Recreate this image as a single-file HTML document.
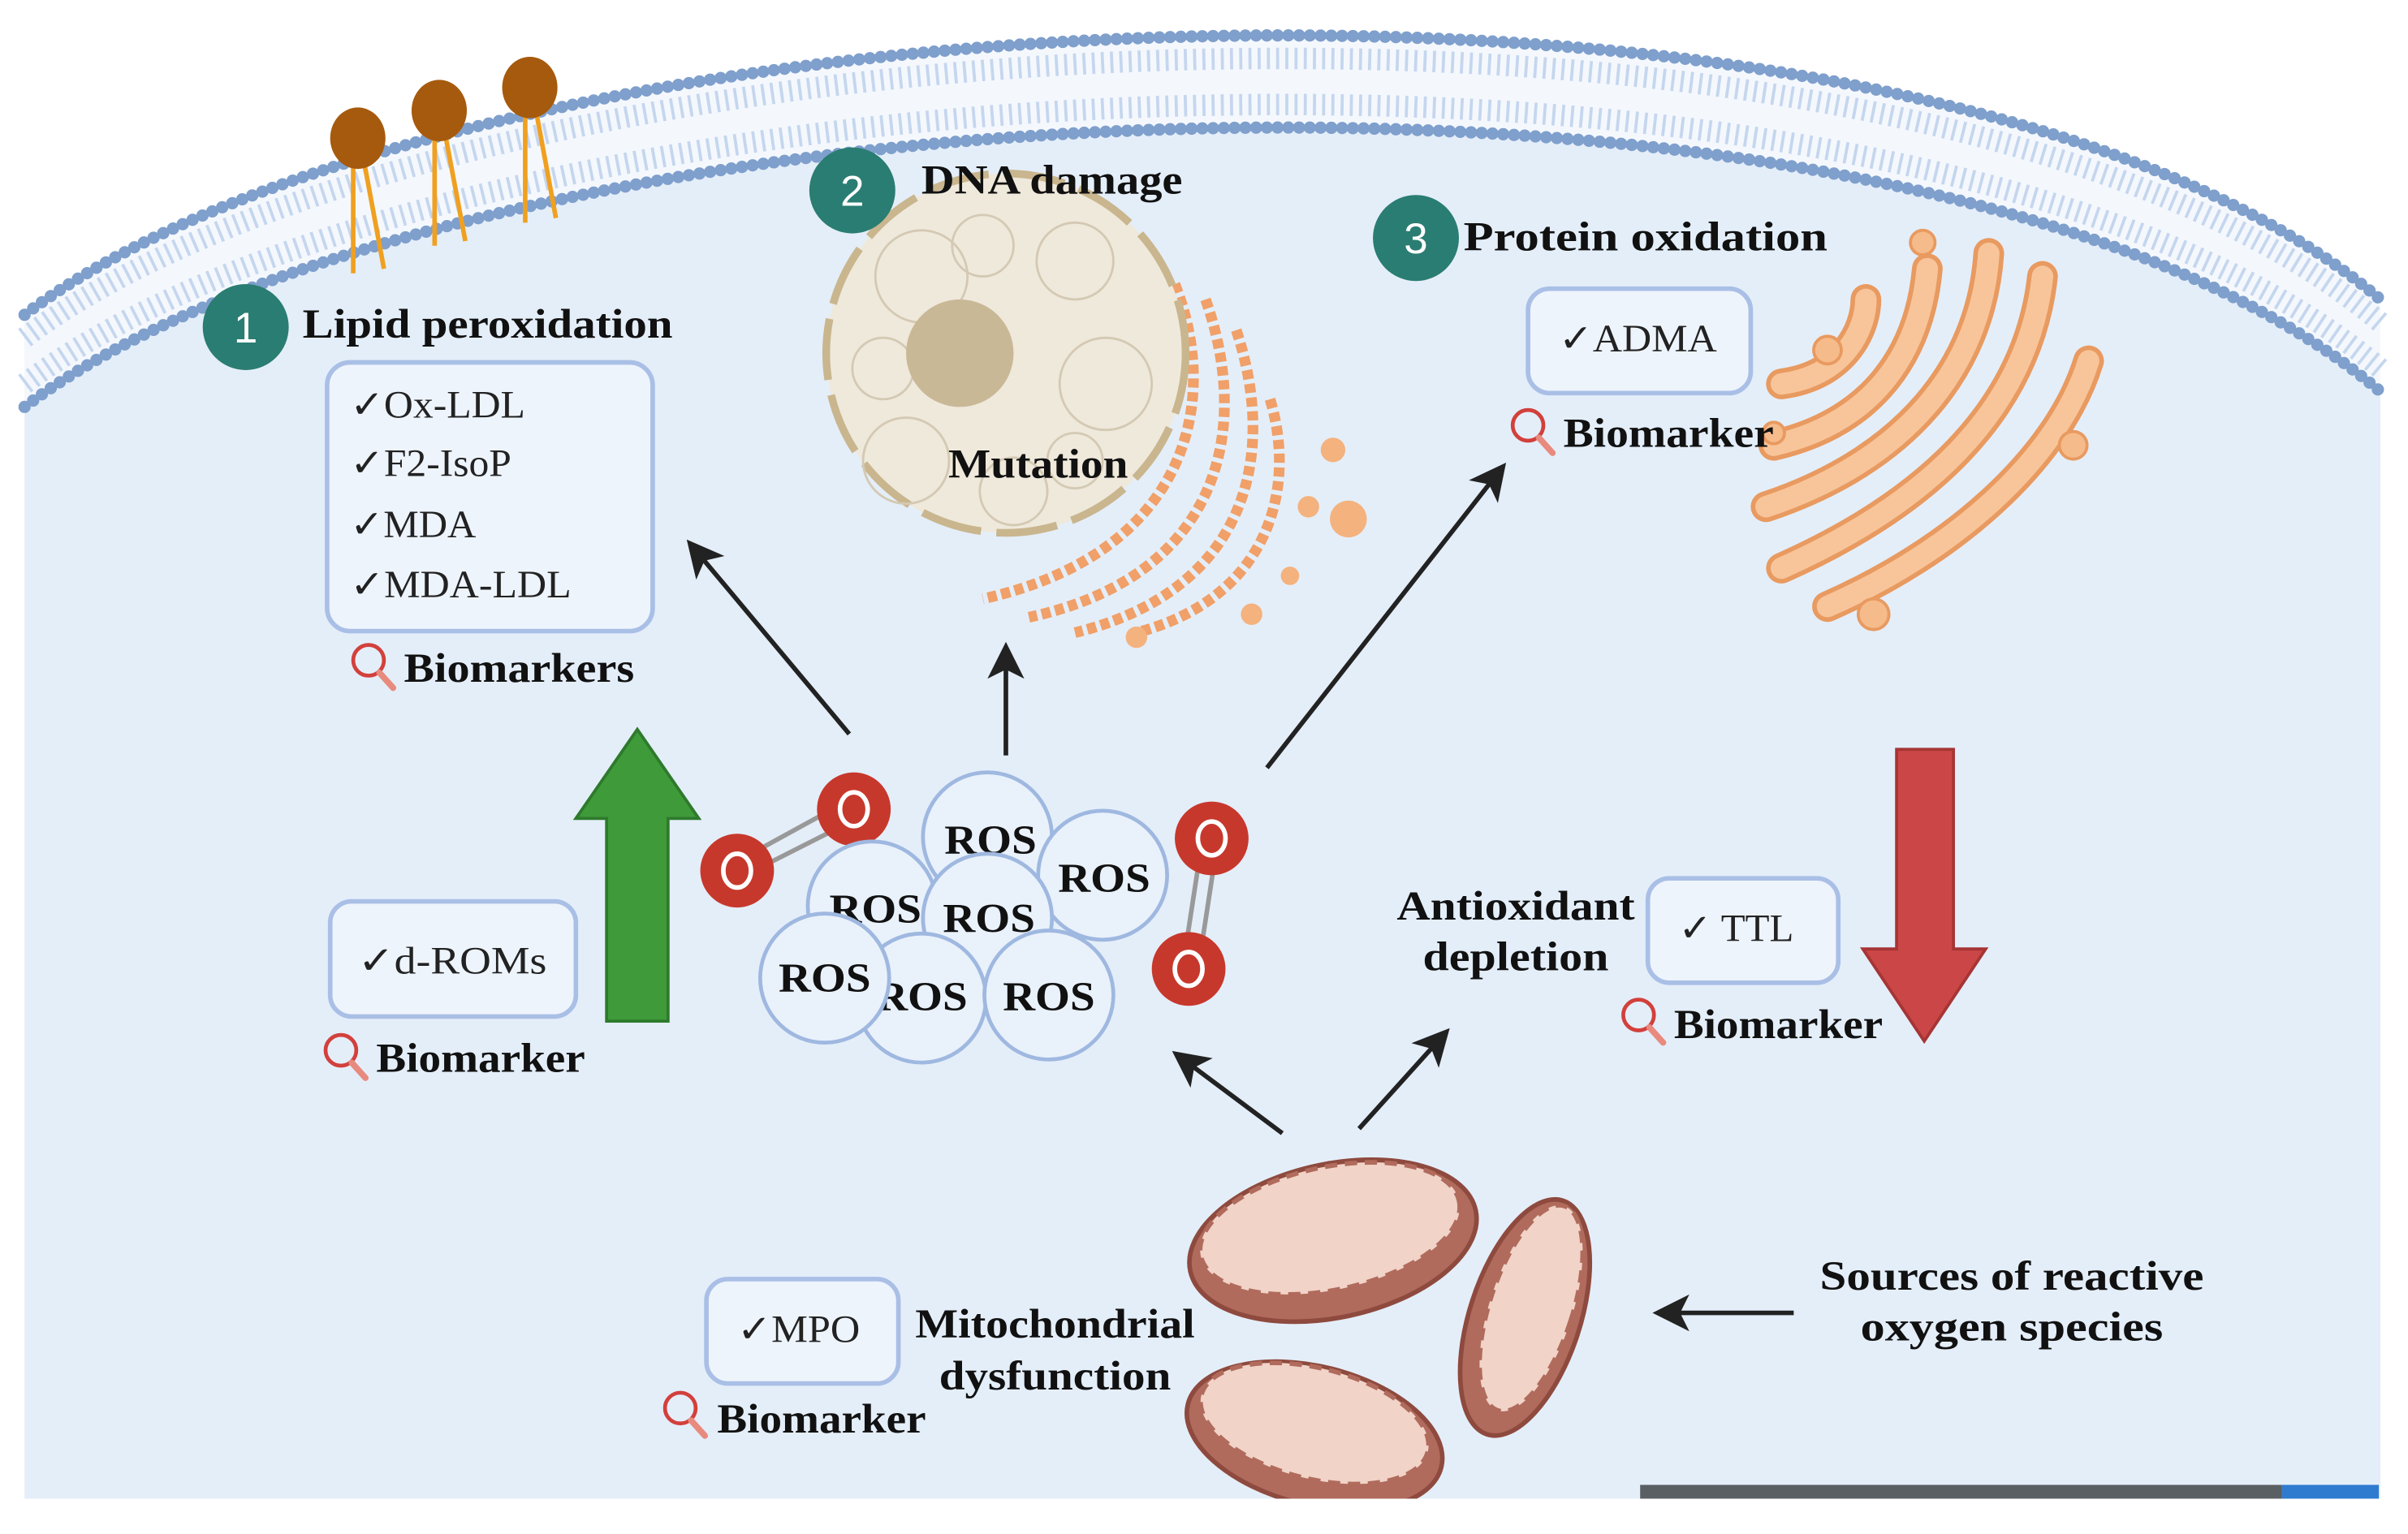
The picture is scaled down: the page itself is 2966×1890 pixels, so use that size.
<!DOCTYPE html>
<html><head><meta charset="utf-8"><style>
html,body{margin:0;padding:0;background:#fff;}
svg{display:block;}
text{font-family:"Liberation Serif",serif;}
.b{font-weight:bold;font-size:27px;fill:#111;}
.n{font-size:25px;fill:#222;}
.box{fill:#eef4fc;stroke:#a9bfe6;stroke-width:3;}
.ros{fill:#e9f1fb;stroke:#9fb8e0;stroke-width:2.5;}
.rt{font-weight:bold;font-size:27px;fill:#111;text-anchor:middle;}
.ar{stroke:#222;stroke-width:3;fill:none;marker-end:url(#ah);}
</style></head><body>
<svg width="2966" height="1890" viewBox="0 0 1568 999" preserveAspectRatio="none" xmlns="http://www.w3.org/2000/svg">
<defs>
<marker id="ah" markerWidth="8" markerHeight="8" refX="6" refY="4" orient="auto" markerUnits="strokeWidth">
<path d="M0,0 L8,4 L0,8 L2,4 Z" fill="#222"/></marker>
<g id="mag"><circle cx="0" cy="0" r="10" fill="none" stroke="#d2403c" stroke-width="2.5"/><line x1="7" y1="8" x2="16" y2="18" stroke="#e88a7e" stroke-width="4" stroke-linecap="round"/></g>
<g id="o2"><circle r="24" fill="#c7382c"/><ellipse rx="9" ry="11" fill="none" stroke="#fff" stroke-width="3"/></g>
</defs>
<path d="M16,205 C300,-10 1250,-60 1550,195 L1550,976 L16,976 Z" fill="#e4eef9"/>
<path d="M16,205 C300,-10 1250,-60 1550,195 L1550,255 C1250,0 300,50 16,265 Z" fill="#f4f8fd"/>
<path d="M16,220 C300,5 1250,-45 1550,210" fill="none" stroke="#c5d6ee" stroke-width="14" stroke-dasharray="2 4"/>
<path d="M16,250 C300,35 1250,-15 1550,240" fill="none" stroke="#c5d6ee" stroke-width="14" stroke-dasharray="2 4"/>
<path d="M16,205 C300,-10 1250,-60 1550,195" fill="none" stroke="#7f9fcc" stroke-width="8" stroke-dasharray="0 7" stroke-linecap="round"/>
<path d="M16,265 C300,50 1250,0 1550,255" fill="none" stroke="#7f9fcc" stroke-width="8" stroke-dasharray="0 7" stroke-linecap="round"/>
<rect x="1068" y="967" width="418" height="9" fill="#5a5f63"/>
<rect x="1486" y="967" width="63" height="9" fill="#2f7bd0"/>
<g stroke="#f0a020" stroke-width="3">
<line x1="230" y1="105" x2="230" y2="178"/><line x1="237" y1="105" x2="250" y2="175"/>
<line x1="283" y1="88" x2="283" y2="160"/><line x1="290" y1="88" x2="303" y2="157"/>
<line x1="342" y1="72" x2="342" y2="145"/><line x1="349" y1="72" x2="362" y2="142"/>
</g>
<ellipse cx="233" cy="90" rx="18" ry="20" fill="#a65a0d"/>
<ellipse cx="286" cy="72" rx="18" ry="20" fill="#a65a0d"/>
<ellipse cx="345" cy="57" rx="18" ry="20" fill="#a65a0d"/>
<!-- ER -->
<g fill="none" stroke="#f0a068" stroke-width="7" stroke-dasharray="6 3">
<path d="M765,185 C795,260 775,360 640,390"/>
<path d="M785,195 C815,280 795,375 670,402"/>
<path d="M805,215 C833,300 810,385 700,412"/>
<path d="M827,260 C845,320 825,390 740,412"/>
</g>
<g fill="#f4b27e"><circle cx="868" cy="293" r="8"/><circle cx="878" cy="338" r="12"/><circle cx="852" cy="330" r="7"/><circle cx="840" cy="375" r="6"/><circle cx="815" cy="400" r="7"/><circle cx="740" cy="415" r="7"/></g>
<!-- nucleus -->
<circle cx="655" cy="230" r="117" fill="#efe9dc" stroke="#c9b68e" stroke-width="5" stroke-dasharray="40 10"/>
<g fill="none" stroke="#d4c9b3" stroke-width="1.5">
<circle cx="600" cy="180" r="30"/><circle cx="700" cy="170" r="25"/><circle cx="720" cy="250" r="30"/><circle cx="590" cy="300" r="28"/><circle cx="660" cy="320" r="22"/><circle cx="640" cy="160" r="20"/><circle cx="700" cy="300" r="18"/><circle cx="575" cy="240" r="20"/>
</g>
<circle cx="625" cy="230" r="35" fill="#c9b896"/>
<text class="rt" x="676" y="311" textLength="117" lengthAdjust="spacingAndGlyphs">Mutation</text>
<!-- badges -->
<g fill="#2a7d72"><circle cx="160" cy="213" r="28"/><circle cx="555" cy="124" r="28"/><circle cx="922" cy="155" r="28"/></g>
<g fill="#fff" font-size="28" text-anchor="middle"><text x="160" y="223" style="font-family:'Liberation Sans',sans-serif">1</text><text x="555" y="134" style="font-family:'Liberation Sans',sans-serif">2</text><text x="922" y="165" style="font-family:'Liberation Sans',sans-serif">3</text></g>
<text class="b" x="197" y="220" textLength="241" lengthAdjust="spacingAndGlyphs">Lipid peroxidation</text>
<text class="b" x="600" y="126" textLength="170" lengthAdjust="spacingAndGlyphs">DNA damage</text>
<text class="b" x="953" y="163" textLength="237" lengthAdjust="spacingAndGlyphs">Protein oxidation</text>
<rect class="box" x="213" y="236" width="212" height="175" rx="15"/>
<text class="n" x="228" y="272" textLength="114" lengthAdjust="spacingAndGlyphs">✓Ox-LDL</text>
<text class="n" x="228" y="310" textLength="105" lengthAdjust="spacingAndGlyphs">✓F2-IsoP</text>
<text class="n" x="228" y="350" textLength="82" lengthAdjust="spacingAndGlyphs">✓MDA</text>
<text class="n" x="228" y="389" textLength="144" lengthAdjust="spacingAndGlyphs">✓MDA-LDL</text>
<use href="#mag" x="240" y="430"/><text class="b" x="263" y="444" textLength="150" lengthAdjust="spacingAndGlyphs">Biomarkers</text>
<!-- golgi -->
<g fill="none" stroke-linecap="round">
<g stroke="#e89a60" stroke-width="20">
<path d="M1160,250 C1200,245 1215,215 1215,195"/>
<path d="M1155,290 C1220,275 1250,230 1255,175"/>
<path d="M1150,330 C1240,300 1290,240 1295,165"/>
<path d="M1160,370 C1250,330 1320,270 1330,180"/>
<path d="M1190,395 C1270,360 1340,300 1360,235"/>
</g>
<g stroke="#f8c59a" stroke-width="14">
<path d="M1160,250 C1200,245 1215,215 1215,195"/>
<path d="M1155,290 C1220,275 1250,230 1255,175"/>
<path d="M1150,330 C1240,300 1290,240 1295,165"/>
<path d="M1160,370 C1250,330 1320,270 1330,180"/>
<path d="M1190,395 C1270,360 1340,300 1360,235"/>
</g></g>
<g fill="#f6bb8a" stroke="#e89a60" stroke-width="2"><circle cx="1252" cy="158" r="8"/><circle cx="1190" cy="228" r="9"/><circle cx="1350" cy="290" r="9"/><circle cx="1220" cy="400" r="10"/><circle cx="1155" cy="282" r="7"/></g>
<rect class="box" x="995" y="188" width="145" height="68" rx="14"/>
<text class="n" x="1015" y="229" textLength="103" lengthAdjust="spacingAndGlyphs">✓ADMA</text>
<use href="#mag" x="995" y="277"/><text class="b" x="1018" y="291" textLength="137" lengthAdjust="spacingAndGlyphs">Biomarker</text>
<line class="ar" x1="553" y1="478" x2="451" y2="356"/>
<line class="ar" x1="655" y1="492" x2="655" y2="424"/>
<line class="ar" x1="825" y1="500" x2="977" y2="306"/>
<line class="ar" x1="835" y1="738" x2="768" y2="688"/>
<line class="ar" x1="885" y1="735" x2="940" y2="674"/>
<line class="ar" x1="1168" y1="855" x2="1082" y2="855"/>
<path d="M395,665 L395,533 L375,533 L415,475 L455,533 L435,533 L435,665 Z" fill="#3f9b3a" stroke="#2e7a2c" stroke-width="2"/>
<path d="M1235,488 L1272,488 L1272,618 L1293,618 L1253,678 L1213,618 L1235,618 Z" fill="#cb4747" stroke="#a63535" stroke-width="2"/>
<g stroke="#999" stroke-width="3"><line x1="480" y1="561" x2="553" y2="521"/><line x1="483" y1="571" x2="558" y2="533"/><line x1="783" y1="546" x2="770" y2="631"/><line x1="793" y1="547" x2="780" y2="632"/></g>
<use href="#o2" x="480" y="567"/><use href="#o2" x="556" y="527"/><use href="#o2" x="789" y="546"/><use href="#o2" x="774" y="631"/>
<circle class="ros" cx="643" cy="545" r="42"/><text class="rt" x="645" y="556" textLength="60" lengthAdjust="spacingAndGlyphs">ROS</text>
<circle class="ros" cx="568" cy="590" r="42"/><text class="rt" x="570" y="601" textLength="60" lengthAdjust="spacingAndGlyphs">ROS</text>
<circle class="ros" cx="718" cy="570" r="42"/><text class="rt" x="719" y="581" textLength="60" lengthAdjust="spacingAndGlyphs">ROS</text>
<circle class="ros" cx="643" cy="598" r="42"/><text class="rt" x="644" y="607" textLength="60" lengthAdjust="spacingAndGlyphs">ROS</text>
<circle class="ros" cx="600" cy="650" r="42"/><text class="rt" x="600" y="658" textLength="60" lengthAdjust="spacingAndGlyphs">ROS</text>
<circle class="ros" cx="537" cy="637" r="42"/><text class="rt" x="537" y="646" textLength="60" lengthAdjust="spacingAndGlyphs">ROS</text>
<circle class="ros" cx="683" cy="648" r="42"/><text class="rt" x="683" y="658" textLength="60" lengthAdjust="spacingAndGlyphs">ROS</text>
<rect class="box" x="215" y="587" width="160" height="75" rx="14"/>
<text class="n" x="233" y="634" textLength="123" lengthAdjust="spacingAndGlyphs">✓d-ROMs</text>
<use href="#mag" x="222" y="684"/><text class="b" x="245" y="698" textLength="136" lengthAdjust="spacingAndGlyphs">Biomarker</text>
<text class="rt" x="987" y="599" textLength="155" lengthAdjust="spacingAndGlyphs">Antioxidant</text>
<text class="rt" x="987" y="632" textLength="121" lengthAdjust="spacingAndGlyphs">depletion</text>
<rect class="box" x="1073" y="572" width="124" height="68" rx="14"/>
<text class="n" x="1093" y="613" textLength="75" lengthAdjust="spacingAndGlyphs">✓ TTL</text>
<use href="#mag" x="1067" y="661"/><text class="b" x="1090" y="676" textLength="136" lengthAdjust="spacingAndGlyphs">Biomarker</text>
<g stroke="#8e4a3e" stroke-width="3">
<ellipse cx="868" cy="808" rx="95" ry="50" transform="rotate(-12 868 808)" fill="#b06b5c"/>
<ellipse cx="866" cy="800" rx="86" ry="40" transform="rotate(-12 866 800)" fill="#f1d3c8" stroke="#b06b5c" stroke-dasharray="8 5"/>
<ellipse cx="993" cy="858" rx="36" ry="80" transform="rotate(18 993 858)" fill="#b06b5c"/>
<ellipse cx="997" cy="852" rx="27" ry="70" transform="rotate(18 997 852)" fill="#f1d3c8" stroke="#b06b5c" stroke-dasharray="8 5"/>
<ellipse cx="856" cy="935" rx="85" ry="45" transform="rotate(14 856 935)" fill="#b06b5c"/>
<ellipse cx="856" cy="927" rx="76" ry="36" transform="rotate(14 856 927)" fill="#f1d3c8" stroke="#b06b5c" stroke-dasharray="8 5"/>
</g>
<rect fill="#fff" x="0" y="976" width="1568" height="23"/>
<rect class="box" x="460" y="833" width="125" height="68" rx="14"/>
<text class="n" x="480" y="874" textLength="80" lengthAdjust="spacingAndGlyphs">✓MPO</text>
<use href="#mag" x="443" y="917"/><text class="b" x="467" y="933" textLength="136" lengthAdjust="spacingAndGlyphs">Biomarker</text>
<text class="rt" x="687" y="871" textLength="182" lengthAdjust="spacingAndGlyphs">Mitochondrial</text>
<text class="rt" x="687" y="905" textLength="151" lengthAdjust="spacingAndGlyphs">dysfunction</text>
<text class="rt" x="1310" y="840" textLength="250" lengthAdjust="spacingAndGlyphs">Sources of reactive</text>
<text class="rt" x="1310" y="873" textLength="197" lengthAdjust="spacingAndGlyphs">oxygen species</text>
</svg>
</body></html>
